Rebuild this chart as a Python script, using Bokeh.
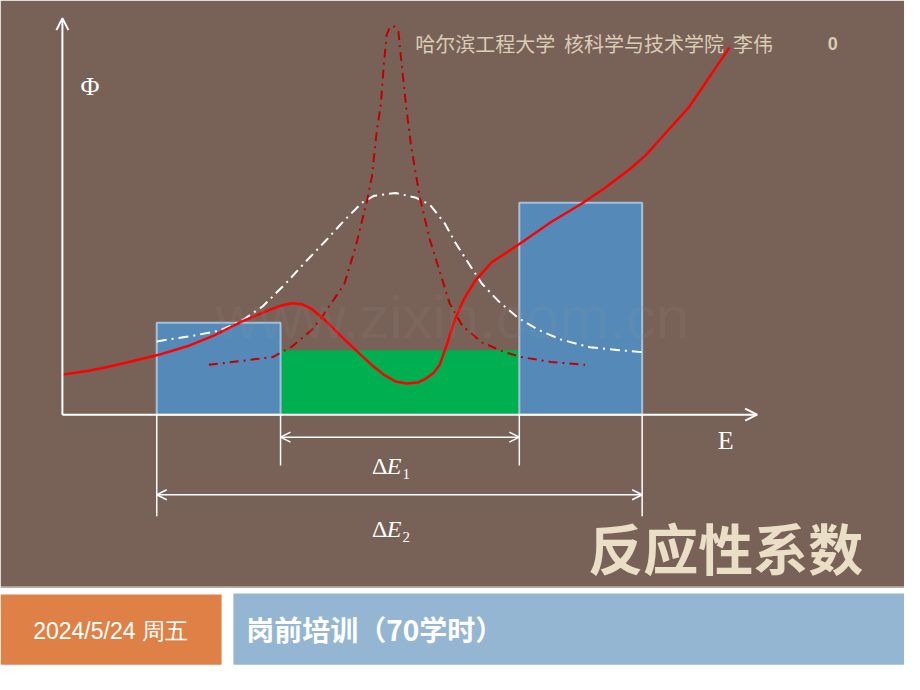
from bokeh.plotting import figure
from bokeh.models import Range1d, Arrow, OpenHead
from bokeh.core.properties import value
from bokeh.embed import file_html
from bokeh.resources import INLINE

# ---------------- data (E along the axis, Phi upward; schematic units) ----------------
group_edges = [96, 222, 465, 590]          # energy group boundaries
group_flux = [94, 66, 217]                 # group-averaged flux (left, ΔE1, right)

flux_E = [0, 27, 47, 72, 97, 127, 154, 184, 210, 224, 234, 244, 254, 267, 277, 287, 304,
          317, 327, 339, 350, 362, 370, 378, 384, 392, 400, 409, 420, 437, 464, 497, 530,
          552, 577, 594, 610, 637, 652, 664, 679]
flux_phi = [41, 45, 49, 55, 61, 70, 81, 96, 107, 112, 114, 113, 108, 97, 87, 77, 61,
            49, 41, 34, 32, 33, 37, 43, 51, 74, 99, 119, 137, 156, 174, 197, 217,
            232, 251, 266, 284, 314, 336, 354, 376]

xs_E = [149, 182, 214, 234, 254, 264, 277, 287, 299, 310, 315, 320, 324, 327, 330, 333, 337,
        342, 345, 350, 355, 364, 374, 387, 394, 407, 427, 450, 467, 497, 532]
xs_val = [51, 55, 59, 70, 87, 100, 119, 134, 174, 219, 244, 291, 317, 357, 389, 396, 398,
          392, 361, 314, 274, 221, 179, 137, 114, 91, 74, 64, 59, 54, 51]

wide_E = [96, 134, 160, 184, 204, 227, 247, 267, 287, 305, 317, 339, 360, 374, 389, 400,
          414, 427, 444, 464, 484, 507, 537, 567, 590]
wide_val = [75, 81, 86, 97, 111, 134, 156, 177, 199, 217, 224, 227, 222, 215, 196, 176,
            154, 134, 116, 99, 87, 77, 69, 66, 64]

axis_len_E = 707
axis_len_phi = 406
dE1_level = -23
dE2_level = -82
short_tick = -52
long_tick = -104

header_text = "哈尔滨工程大学\u00a0\u00a0核科学与技术学院\u00a0\u00a0李伟"
page_no = "0"
title_text = "反应性系数"
date_text = "2024/5/24 周五"
course_text = "岗前培训（70学时）"
watermark = "www.zixin.com.cn"

BROWN = "#786157"
BEIGE = "#D9CDB6"

p = figure(width=904, height=674, x_range=Range1d(-63, 857), y_range=Range1d(-266, 424),
           output_backend="svg", toolbar_location=None, min_border=0,
           background_fill_color="white", border_fill_color="white")
p.axis.visible = False
p.grid.visible = False
p.outline_line_color = None

# slide background and footer
p.quad(left=[-63], right=[857], bottom=[-176], top=[424], fill_color=BROWN, line_color=None)
p.line(x=[-63, 857], y=[-176.5, -176.5], line_color="#A89588", line_width=1.5)
p.quad(left=[-63], right=[162], bottom=[-256], top=[-184], fill_color="#DF8147", line_color=None)
p.quad(left=[174], right=[857], bottom=[-256], top=[-183], fill_color="#94B6D2", line_color=None)

# group bars
p.quad(left=[group_edges[1]], right=[group_edges[2]], bottom=[0], top=[group_flux[1]],
       fill_color="#00B050", line_color=None)
p.quad(left=[group_edges[0], group_edges[2]], right=[group_edges[1], group_edges[3]],
       bottom=[0, 0], top=[group_flux[0], group_flux[2]],
       fill_color="#558AB8", line_color="#A3C0DC", line_width=2)

# curves
p.line(wide_E, wide_val, line_color="white", line_width=2, line_dash="10 5 2 5")
p.line(xs_E, xs_val, line_color="#C00000", line_width=2, line_dash="9 5 2 5")
p.line(flux_E, flux_phi, line_color="#FF0000", line_width=2.5)

# axes
p.add_layout(Arrow(end=OpenHead(size=12, line_color="white", line_width=2),
                   x_start=0, y_start=0, x_end=axis_len_E, y_end=0,
                   line_color="white", line_width=2))
p.add_layout(Arrow(end=OpenHead(size=12, line_color="white", line_width=2),
                   x_start=0, y_start=0, x_end=0, y_end=axis_len_phi,
                   line_color="white", line_width=2))

# group boundary markers
p.segment(x0=[group_edges[0], group_edges[3], group_edges[1], group_edges[2]], y0=[0, 0, 0, 0],
          x1=[group_edges[0], group_edges[3], group_edges[1], group_edges[2]],
          y1=[long_tick, long_tick, short_tick, short_tick],
          line_color="white", line_width=1.5)
p.add_layout(Arrow(start=OpenHead(size=10, line_color="white", line_width=1.5),
                   end=OpenHead(size=10, line_color="white", line_width=1.5),
                   x_start=group_edges[1], y_start=dE1_level, x_end=group_edges[2], y_end=dE1_level,
                   line_color="white", line_width=1.5))
p.add_layout(Arrow(start=OpenHead(size=10, line_color="white", line_width=1.5),
                   end=OpenHead(size=10, line_color="white", line_width=1.5),
                   x_start=group_edges[0], y_start=dE2_level, x_end=group_edges[3], y_end=dE2_level,
                   line_color="white", line_width=1.5))

serif = value("Liberation Serif")
# axis labels
p.text(x=[28], y=[336], text=["Φ"], text_font=serif, text_font_size="26px",
       text_color="white", text_align="center", text_baseline="middle")
p.text(x=[675], y=[-26], text=["E"], text_font=serif, text_font_size="26px",
       text_color="white", text_align="center", text_baseline="middle")

# ΔE labels
p.text(x=[315, 315], y=[-53, -117], text=["Δ", "Δ"], text_font=serif, text_font_size="24px",
       text_color="white", text_align="left", text_baseline="middle")
p.text(x=[330, 330], y=[-53, -117], text=["E", "E"], text_font=serif, text_font_size="24px",
       text_font_style="italic", text_color="white", text_align="left", text_baseline="middle")
p.text(x=[346, 346], y=[-61, -125], text=["1", "2"], text_font=serif, text_font_size="15px",
       text_color="white", text_align="left", text_baseline="middle")

cjk = value("Noto Sans CJK SC")
p.text(x=[359], y=[380], text=[header_text], text_font=cjk, text_font_size="20px",
       text_color=BEIGE, text_align="left", text_baseline="middle")
p.text(x=[784], y=[380], text=[page_no], text_font=value("Liberation Sans"), text_font_size="18px",
       text_font_style="bold", text_color=BEIGE, text_align="center", text_baseline="middle")
p.text(x=[815], y=[-134], text=[title_text], text_font=cjk, text_font_size="55px",
       text_font_style="bold", text_color="#EADFC6", text_align="right", text_baseline="middle")

p.text(x=[49], y=[-221], text=[date_text], text_font=value("Liberation Sans"),
       text_font_size="23px", text_color="white", text_align="center", text_baseline="middle")
p.text(x=[187], y=[-219], text=[course_text], text_font=cjk, text_font_size="28px",
       text_font_style="bold", text_color="white", text_align="left", text_baseline="middle")

# faint watermark
p.text(x=[397], y=[99], text=[watermark], text_font=value("Liberation Sans"), text_font_size="60px",
       text_color="#909090", text_alpha=0.12, text_align="center", text_baseline="middle")

open("out.html", "w").write(file_html(p, INLINE))
